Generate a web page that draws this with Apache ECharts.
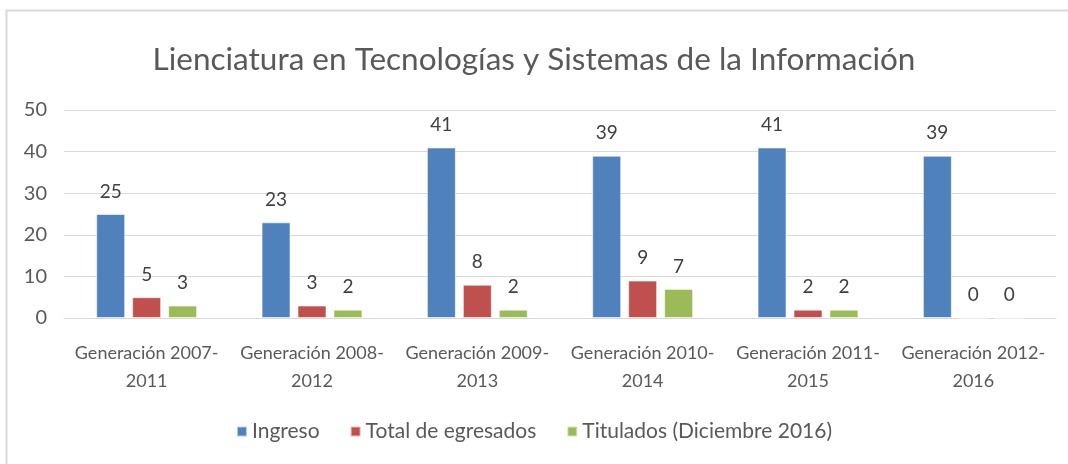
<!DOCTYPE html>
<html>
<head>
<meta charset="utf-8">
<script src="https://cdn.jsdelivr.net/npm/echarts@6/dist/echarts.min.js"></script>
<style>
html,body{margin:0;padding:0;background:#fff;}
#c{width:1068px;height:464px;}
</style>
</head>
<body>
<div id="c"></div>
<script>
var titleText = 'Lienciatura en Tecnologías y Sistemas de la Información';
var categories = ['Generación 2007-\n2011','Generación 2008-\n2012','Generación 2009-\n2013','Generación 2010-\n2014','Generación 2011-\n2015','Generación 2012-\n2016'];
var seriesNames = ['Ingreso','Total de egresados','Titulados (Diciembre 2016)'];
var ingreso = [25,23,41,39,41,39];
var egresados = [5,3,8,9,2,0];
var titulados = [3,2,2,7,2,0];
var colors = ['#4f81bd','#c0504d','#9bbb59'];
var FONT = 'Lato';

var chart = echarts.init(document.getElementById('c'));
function mk(name, data, color){
  return {
    name: name, type: 'bar', data: data,
    barWidth: 29, barGap: '24%',
    itemStyle: {color: color, borderColor: 'rgba(255,255,255,0.6)', borderWidth: 1},
    label: {show: true, position: 'top', distance: 13, color: '#404040', fontSize: 19, fontFamily: FONT},
    emphasis: {disabled: true}
  };
}
chart.setOption({
  animation: false,
  color: colors,
  textStyle: {fontFamily: FONT},
  graphic: [{type:'rect', shape:{x:6.5,y:10.5,width:1080,height:470}, style:{fill:null, stroke:'#d9d9d9', lineWidth:2}, silent:true}],
  title: {text: titleText, left: 'center', top: 39, textStyle: {fontFamily: FONT, fontSize: 31.5, fontWeight: 'normal', color: '#595959'}},
  legend: {data: seriesNames, bottom: 17, left: 'center', itemWidth: 10, itemHeight: 10, itemGap: 30, icon: 'rect',
    textStyle: {fontFamily: FONT, fontSize: 21, color: '#595959'}},
  grid: {left: 64, right: 12, top: 110, bottom: 146, containLabel: false},
  xAxis: {type: 'category', data: categories,
    axisLine: {show: true, lineStyle: {color: '#d9d9d9'}}, axisTick: {show: false},
    axisLabel: {interval: 0, fontFamily: FONT, fontSize: 18, color: '#595959', lineHeight: 28, margin: 21}},
  yAxis: {type: 'value', min: 0, max: 50, interval: 10,
    axisLine: {show: false}, axisTick: {show: false},
    splitLine: {lineStyle: {color: '#d9d9d9'}},
    axisLabel: {fontFamily: FONT, fontSize: 20, color: '#595959', margin: 17}},
  series: [mk(seriesNames[0], ingreso, colors[0]), mk(seriesNames[1], egresados, colors[1]), mk(seriesNames[2], titulados, colors[2])]
});
</script>
</body>
</html>
